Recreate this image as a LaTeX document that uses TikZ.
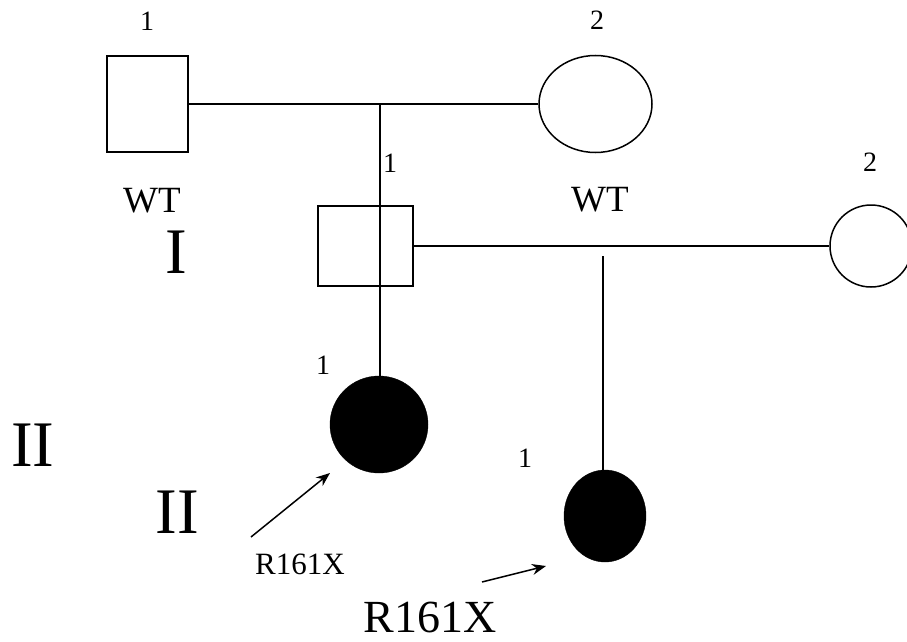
\documentclass[tikz,border=0pt]{standalone}
\usepackage{fontspec}
\setmainfont{Liberation Serif}
\usetikzlibrary{arrows.meta,shapes.geometric}
\begin{document}
\begin{tikzpicture}[x=1pt,y=-1pt,
  ln/.style={line width=1.5pt},
  male/.style={draw,line width=1.5pt,rectangle,inner sep=0pt},
  fem/.style={draw,line width=1.5pt,ellipse,inner sep=0pt},
  aff/.style={fill=black,draw=black,ellipse,inner sep=0pt},
  num/.style={inner sep=0pt,font=\fontsize{28}{28}\selectfont},
  wt/.style={inner sep=0pt,font=\fontsize{37}{37}\selectfont},
  gen/.style={inner sep=0pt,font=\fontsize{65}{65}\selectfont},
  mut/.style={inner sep=0pt,font=\fontsize{31}{31}\selectfont},
  mutbig/.style={inner sep=0pt,font=\fontsize{46}{46}\selectfont},
  arr/.style={line width=1.5pt,-{Stealth[length=14pt,width=11pt]}}]
\useasboundingbox (0,0) rectangle (907,642);
% generation I couple
\node[male,minimum width=81pt,minimum height=96pt] (m1) at (147.5,104) {};
\node[fem,minimum width=113pt,minimum height=97pt] (f1) at (595.5,104) {};
\draw[ln] (m1.east) -- (f1.west);
\coordinate (c1) at (380,104);
% second couple
\node[male,minimum width=95pt,minimum height=80pt] (m2) at (365.5,246) {};
\node[fem,minimum width=82pt,minimum height=82pt] (f2) at (871,246) {};
\draw[ln] (m2.east) -- (f2.west);
\coordinate (c2) at (603,256);
% affected children
\node[aff,minimum width=98pt,minimum height=97pt] (a1) at (379,424.5) {};
\node[aff,minimum width=82pt,minimum height=92pt] (a2) at (605,516) {};
\draw[ln] (c1) -- (c1 |- a1.north);
\draw[ln] (c2) -- (c2 |- a2.north);
% labels
\node[num] (n1) at (147,21) {1};
\node[num] (n2) at (597,20) {2};
\node[num] (n3) at (390,163) {1};
\node[num] (n4) at (870,162) {2};
\node[num] (n5) at (323,365) {1};
\node[num] (n6) at (525,458) {1};
\node[wt] (w1) at (152,201) {WT};
\node[wt] (w2) at (600,200) {WT};
\node[gen] (g1) at (176,252) {I};
\node[gen] (g2) at (33,445) {II};
\node[gen] (g3) at (177,512) {II};
\node[mut] (r1) at (300,564) {R161X};
\node[mutbig] (r2) at (430,617) {R161X};
% arrows
\coordinate (s1) at (251,537);
\coordinate (e1) at (330,473);
\coordinate (s2) at (482,582);
\coordinate (e2) at (546,566);
\draw[arr] (s1) -- (e1);
\draw[arr] (s2) -- (e2);
\end{tikzpicture}
\end{document}
